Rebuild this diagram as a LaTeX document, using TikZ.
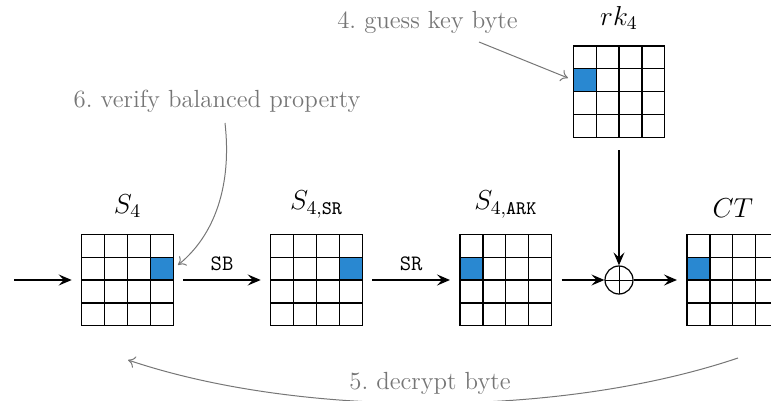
\RequirePackage{fix-cm}
\documentclass[tikz,border=0pt]{standalone}
\usetikzlibrary{arrows.meta,positioning,calc}

\definecolor{cellblue}{RGB}{41,136,209}
\definecolor{notegray}{RGB}{118,118,118}

% side length of one byte cell of a 4x4 state
\def\cellsz{11.45pt}

% 4x4 grid on a state node
\newcommand\stategrid[1]{%
  \draw[gridline, shift={(#1.south west)}] (0,0) grid[step=\cellsz] (4*\cellsz,4*\cellsz);}
% highlighted byte: column #2, row #3, counted from the top left, from 0
\newcommand\hicell[3]{%
  \fill[cellblue] ($(#1.north west)+(#2*\cellsz,-#3*\cellsz)$) rectangle ++(\cellsz,-\cellsz);}

\begin{document}
\begin{tikzpicture}[x=0.5pt,y=-0.5pt,
  statebox/.style={minimum size=4*\cellsz, inner sep=0pt, outer sep=0pt},
  gridline/.style={line width=0.6pt, black},
  varlabel/.style={font=\fontsize{13.7}{16}\selectfont, inner sep=2pt},
  oplabel/.style={font=\fontsize{11}{13}\selectfont\ttfamily, inner sep=2pt},
  notetext/.style={text=notegray, font=\fontsize{12.4}{15}\selectfont, inner sep=2pt},
  flow/.style={line width=0.8pt, -{Stealth[length=6.5pt,width=5.5pt,inset=2.5pt]}},
  hint/.style={draw=notegray, line width=0.5pt, -{To[length=3.5pt,width=6pt]}},
  xorgate/.style={circle, draw, line width=0.6pt, minimum size=14pt, inner sep=0pt,
    path picture={\draw[line width=0.5pt] (path picture bounding box.north) -- (path picture bounding box.south)
      (path picture bounding box.west) -- (path picture bounding box.east);}}]

\useasboundingbox (0,0) rectangle (771,401);

% states of the last round
\node[statebox] (s4)    at (127.5,280) {};
\node[statebox] (s4sr)  at (316.5,280) {};
\node[statebox] (s4ark) at (505.8,280) {};
\node[statebox] (ct)    at (732.8,280) {};
\node[statebox] (rk)    at (619,91.7)  {};
\node[xorgate]  (xor)   at (619,280)   {};

\hicell{s4}{3}{1}
\hicell{s4sr}{3}{1}
\hicell{s4ark}{0}{1}
\hicell{ct}{0}{1}
\hicell{rk}{0}{1}
\stategrid{s4}
\stategrid{s4sr}
\stategrid{s4ark}
\stategrid{ct}
\stategrid{rk}

% state names
\node[varlabel, above=6pt of s4]    (s4name)    {$S_4$};
\node[varlabel, above=6pt of s4sr]  (s4srname)  {$S_{4,\mathtt{SR}}$};
\node[varlabel, above=6pt of s4ark] (s4arkname) {$S_{4,\mathtt{ARK}}$};
\node[varlabel, above=6pt of ct]    (ctname)    {$CT$};
\node[varlabel, above=6pt of rk]    (rkname)    {$rk_4$};

% data flow
\coordinate (in) at (14,280);
\draw[flow, shorten >=5pt] (in) -- (s4);
\draw[flow, shorten <=5pt, shorten >=5pt] (s4) -- node[oplabel, above=2pt] (sb) {SB} (s4sr);
\draw[flow, shorten <=5pt, shorten >=5pt] (s4sr) -- node[oplabel, above=2pt] (sr) {SR} (s4ark);
\draw[flow, shorten <=5pt] (s4ark) -- (xor);
\draw[flow, shorten >=5pt] (xor) -- (ct);
\draw[flow, shorten <=6.5pt] (rk) -- (xor);

% attack steps
\node[notetext] (guess)  at (427.5,22) {4.\ guess key byte};
\node[notetext] (verify) at (217,101)  {6.\ verify balanced property};

\coordinate (guessfrom) at (479,42);
\coordinate (guessto)   at (568,78);
\draw[hint] (guessfrom) -- (guessto);

\coordinate (verifyfrom) at (225,123);
\coordinate (verifyto)   at (178,265);
\draw[hint] (verifyfrom) .. controls (232,185) and (215,235) .. (verifyto);

\coordinate (decfrom) at (738,358);
\coordinate (decto)   at (128,360);
\draw[hint] (decfrom) .. controls (560,418) and (300,418) .. (decto);
\node[notetext, fill=white] (decrypt) at (430,383) {5.\ decrypt byte};

\end{tikzpicture}
\end{document}
